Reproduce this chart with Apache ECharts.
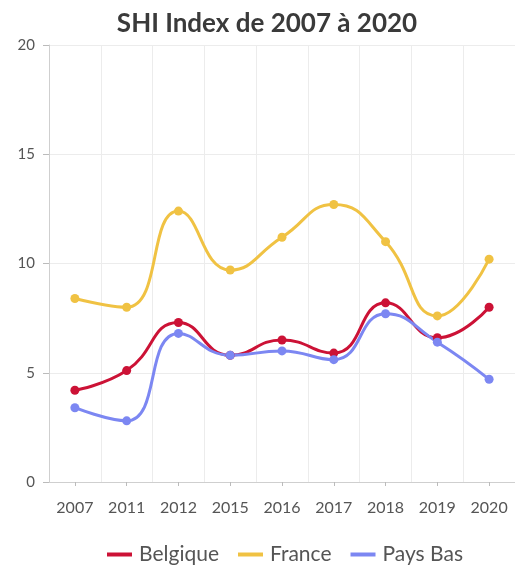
<!DOCTYPE html>
<html>
<head>
<meta charset="utf-8">
<script src="https://cdn.jsdelivr.net/npm/echarts@6/dist/echarts.min.js"></script>
<style>
  html, body { margin: 0; padding: 0; background: #fff; }
  #chart { width: 515px; height: 571px; }
</style>
</head>
<body>
<div id="chart"></div>
<script>
// SHI (Social Hostilities Index) by country, 2007–2020
const years = ['2007', '2011', '2012', '2015', '2016', '2017', '2018', '2019', '2020'];
const belgique = [4.2, 5.1, 7.3, 5.8, 6.5, 5.9, 8.2, 6.6, 8.0];
const france = [8.4, 8.0, 12.4, 9.7, 11.2, 12.7, 11.0, 7.6, 10.2];
const paysBas = [3.4, 2.8, 6.8, 5.8, 6.0, 5.6, 7.7, 6.4, 4.7];
const yTicks = [0, 5, 10, 15, 20];

const FONT = 'Lato, "Open Sans", sans-serif';

function lineSeries(name, data, color) {
  return {
    name: name,
    type: 'line',
    data: data,
    smooth: 0.5,
    symbol: 'circle',
    symbolSize: 9,
    lineStyle: { width: 3, color: color },
    itemStyle: { color: color },
    emphasis: { disabled: true }
  };
}

const chart = echarts.init(document.getElementById('chart'), null, { renderer: 'canvas' });
chart.setOption({
  animation: false,
  title: {
    text: 'SHI Index de 2007 à 2020',
    left: 262,
    textAlign: 'center',
    top: 6,
    textStyle: { fontFamily: FONT, fontSize: 26, fontWeight: 'bold', color: '#3a3a3a' }
  },
  legend: {
    top: 539,
    left: 102,
    width: 440,
    orient: 'horizontal',
    itemWidth: 25,
    itemHeight: 4,
    itemGap: 19,
    icon: 'rect',
    textStyle: { fontFamily: FONT, fontSize: 21, color: '#555', padding: [0, 0, 0, 2] },
    data: ['Belgique', 'France', 'Pays Bas']
  },
  grid: { left: 49, right: -7, top: 45, bottom: 89, containLabel: false },
  xAxis: {
    type: 'category',
    data: years,
    boundaryGap: true,
    axisLine: { show: true, lineStyle: { color: '#cfcfcf', width: 1 } },
    axisTick: { show: true, alignWithLabel: true, length: 4, lineStyle: { color: '#bbb' } },
    axisLabel: { fontFamily: FONT, fontSize: 16, color: '#555', margin: 18 },
    splitLine: { show: true, lineStyle: { color: '#ececec', width: 1 } }
  },
  yAxis: {
    type: 'value',
    min: yTicks[0],
    max: yTicks[yTicks.length - 1],
    interval: 5,
    axisLine: { show: true, lineStyle: { color: '#cfcfcf', width: 1 } },
    axisTick: { show: true, length: 6, lineStyle: { color: '#bbb' } },
    axisLabel: { fontFamily: FONT, fontSize: 15, color: '#555', margin: 14 },
    splitLine: { show: true, lineStyle: { color: '#ececec', width: 1 } }
  },
  series: [
    lineSeries('Belgique', belgique, '#cc1236'),
    lineSeries('France', france, '#f0c243'),
    lineSeries('Pays Bas', paysBas, '#7c87f2')
  ]
});
</script>
</body>
</html>
